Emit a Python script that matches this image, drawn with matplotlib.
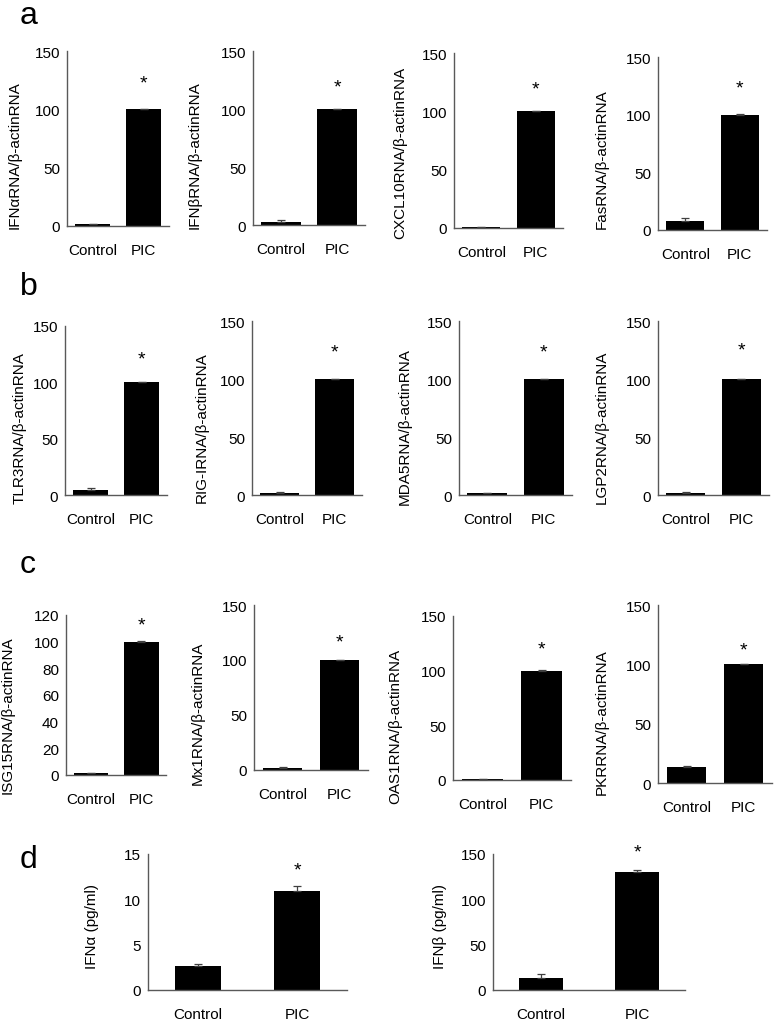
import matplotlib
matplotlib.use("Agg")
import matplotlib.pyplot as plt

# ---------------- data ----------------
groups = ["Control", "PIC"]

row_a_labels = ["IFNαRNA/β-actinRNA", "IFNβRNA/β-actinRNA", "CXCL10RNA/β-actinRNA", "FasRNA/β-actinRNA"]
row_a_control = [1.4, 2.9, 0.9, 8.1]
row_a_control_err = [0.5, 1.7, 0.3, 2.0]
row_a_pic = [100, 100, 100, 100]
row_a_pic_err = [0.3, 0.3, 0.3, 0.3]
row_a_star = [128, 125, 125, 129]

row_b_labels = ["TLR3RNA/β-actinRNA", "RIG-IRNA/β-actinRNA", "MDA5RNA/β-actinRNA", "LGP2RNA/β-actinRNA"]
row_b_control = [4.5, 2.0, 1.7, 2.0]
row_b_control_err = [1.4, 0.3, 0.3, 0.3]
row_b_pic = [100, 100, 100, 100]
row_b_pic_err = [0.3, 0.3, 0.3, 0.3]
row_b_star = [127, 129, 129, 131]

row_c_labels = ["ISG15RNA/β-actinRNA", "Mx1RNA/β-actinRNA", "OAS1RNA/β-actinRNA", "PKRRNA/β-actinRNA"]
row_c_control = [1.2, 2.1, 1.0, 13.2]
row_c_control_err = [0.3, 0.3, 0.3, 0.8]
row_c_pic = [100, 100, 100, 100]
row_c_pic_err = [0.3, 0.3, 0.3, 0.3]
row_c_star = [117.5, 122, 126, 118]
row_c_ymax = [120, 150, 150, 150]
row_c_step = [20, 50, 50, 50]

row_d_labels = ["IFNα (pg/ml)", "IFNβ (pg/ml)"]
row_d_control = [2.6, 12.9]
row_d_control_err = [0.25, 4.4]
row_d_pic = [10.87, 129.7]
row_d_pic_err = [0.63, 3.0]
row_d_star = [14.0, 159]
row_d_ymax = [15, 150]
row_d_step = [5, 50]

# ---------------- layout ----------------
W, H = 774, 1020
DPI = 100
fig = plt.figure(figsize=(W / DPI, H / DPI), dpi=DPI)
fig.patch.set_facecolor("white")

REG = ["Liberation Sans", "DejaVu Sans"]
SPINE = "#595959"
FS = 11

def px_axes(l, t, r, b):
    return fig.add_axes([l / W, 1 - b / H, (r - l) / W, (b - t) / H])

def draw(rect, ylabel, vals, errs, star, ymax, step, label_dist, label_shift, width):
    l, t, r, b = rect
    ax = px_axes(l, t, r, b)
    x = [0, 1]
    ax.bar(x, vals, width=width, color="black", zorder=2)
    ax.errorbar(x, vals, yerr=[[0, 0], errs], fmt="none", ecolor="#404040",
                elinewidth=0.9, capsize=3, capthick=0.9, zorder=3)
    ax.set_xlim(-0.5, 1.5)
    ax.set_ylim(0, ymax)
    ax.set_yticks(list(range(0, ymax + 1, step)))
    ax.set_xticks(x)
    ax.set_xticklabels(groups, family=REG, fontsize=FS)
    for lab in ax.get_yticklabels():
        lab.set_family(REG)
        lab.set_fontsize(FS)
    ax.tick_params(axis="both", length=0)
    ax.tick_params(axis="x", pad=12)
    ax.tick_params(axis="y", pad=5)
    for s in ["top", "right"]:
        ax.spines[s].set_visible(False)
    for s in ["left", "bottom"]:
        ax.spines[s].set_color(SPINE)
        ax.spines[s].set_linewidth(1.0)
    ax.set_ylabel(ylabel, family=REG, fontsize=FS)
    ax.yaxis.set_label_coords(-(label_dist - 7) / (r - l), 0.5 - label_shift / (b - t))
    ax.annotate("*", (1, star), xytext=(0, -8), textcoords="offset points",
                ha="center", va="baseline", fontsize=14, family=REG,
                annotation_clip=False)
    return ax

rects_a = [(67, 52, 169, 227), (253, 52, 365, 226), (454, 54, 563, 229), (658, 58, 767, 231)]
rects_b = [(65, 327, 167, 496), (252, 322, 362, 496), (459, 322, 572, 496), (658, 322, 769, 496)]
rects_c = [(66, 616, 166, 776), (254, 606, 368, 771), (453, 617, 571, 781), (658, 606, 772, 784)]
rects_d = [(148, 855, 347, 991), (493, 855, 685, 991)]

dist_a = [52, 58, 54, 56]
dist_b = [45, 50, 54, 56]
dist_c = [58, 56, 58, 56]
dist_d = [56, 53]

shift_a = [16, 16, 11, 15]
shift_b = [17, 19, 18, 18]
shift_c = [19, 25, 27, 27]
shift_d = [4, 4]

for i in range(4):
    draw(rects_a[i], row_a_labels[i], [row_a_control[i], row_a_pic[i]],
         [row_a_control_err[i], row_a_pic_err[i]], row_a_star[i], 150, 50,
         dist_a[i], shift_a[i], 0.7)
    draw(rects_b[i], row_b_labels[i], [row_b_control[i], row_b_pic[i]],
         [row_b_control_err[i], row_b_pic_err[i]], row_b_star[i], 150, 50,
         dist_b[i], shift_b[i], 0.7)
    draw(rects_c[i], row_c_labels[i], [row_c_control[i], row_c_pic[i]],
         [row_c_control_err[i], row_c_pic_err[i]], row_c_star[i], row_c_ymax[i],
         row_c_step[i], dist_c[i], shift_c[i], 0.7)
for i in range(2):
    draw(rects_d[i], row_d_labels[i], [row_d_control[i], row_d_pic[i]],
         [row_d_control_err[i], row_d_pic_err[i]], row_d_star[i], row_d_ymax[i],
         row_d_step[i], dist_d[i], shift_d[i], 0.46)

# panel letters
for letter, base in [("a", 24), ("b", 295), ("c", 573), ("d", 868)]:
    fig.text(20 / W, 1 - base / H, letter, fontsize=23, family=REG,
             ha="left", va="baseline")

fig.savefig("out.png", dpi=DPI, facecolor="white")
